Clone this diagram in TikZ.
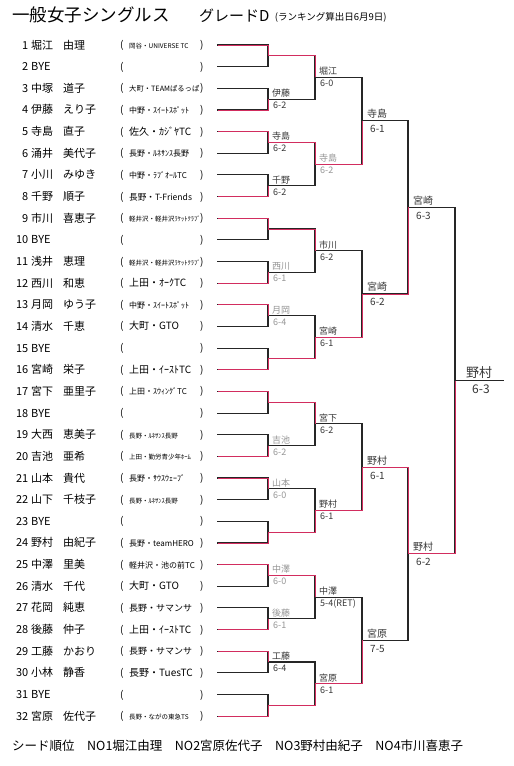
\documentclass[tikz,border=0pt]{standalone}
\usepackage{fontspec}
\setmainfont{Noto Sans CJK JP}
\usetikzlibrary{calc}
\definecolor{inkred}{RGB}{210,45,95}
\definecolor{pen}{RGB}{55,55,55}
\definecolor{faint}{RGB}{150,150,150}
\newcommand\ClubS{\fontsize{6.5}{7}\selectfont}
\newcommand\ClubT{\fontsize{7.3}{8}\selectfont}
\newcommand\ClubM{\fontsize{8}{9}\selectfont}
\newcommand\ClubF{\fontsize{8.6}{9}\selectfont}
\newcommand\ClubN{\fontsize{9}{10}\selectfont}
\newcommand\ClubL{\fontsize{10}{11}\selectfont}
\begin{document}
\begin{tikzpicture}[x=1pt,y=-1pt,
  br/.style={line width=1.1pt, black!85, line cap=rect},
  rd/.style={line width=0.9pt, inkred, xshift=1pt, yshift=1pt},
  txt/.style={anchor=base west, inner sep=0pt},
  num/.style={anchor=base east, inner sep=0pt, font=\fontsize{11}{11}\selectfont},
  nm/.style={txt, font=\fontsize{11}{11}\selectfont},
  par/.style={txt, font=\fontsize{10}{10}\selectfont},
  lab/.style={txt, font=\fontsize{9}{9}\selectfont},
  labb/.style={txt, font=\fontsize{10}{10}\selectfont}]
\useasboundingbox[fill=white] (0,0) rectangle (514,766);

% title
\node[txt, font=\fontsize{17.5}{17.5}\selectfont] (t1) at (12,21) {一般女子シングルス};
\node[txt, font=\fontsize{15}{15}\selectfont] (t2) at (199,21) {グレードD};
\node[txt, font=\fontsize{9.5}{9.5}\selectfont] (t3) at ($(t2.base east)+(5,-1)$) {(ランキング算出日6月9日)};

% players
\foreach \i/\sur/\giv/\cs/\club in {
 1/堀江/由理/S/岡谷・UNIVERSE TC,
 2/BYE/{}/S/{},
 3/中塚/道子/T/大町・TEAMぱるっぱ,
 4/伊藤/えり子/M/中野・ｽｲｰﾄｽﾎﾟｯﾄ,
 5/寺島/直子/L/佐久・ｶｼﾞﾔTC,
 6/涌井/美代子/M/長野・ﾙﾈｻﾝｽ長野,
 7/小川/みゆき/M/中野・ﾗﾌﾞｵｰﾙTC,
 8/千野/順子/F/長野・T-Friends,
 9/市川/喜恵子/S/軽井沢・軽井沢ﾗｹｯﾄｸﾗﾌﾞ,
 10/BYE/{}/S/{},
 11/浅井/恵理/S/軽井沢・軽井沢ﾗｹｯﾄｸﾗﾌﾞ,
 12/西川/和恵/L/上田・ｵｰｸTC,
 13/月岡/ゆう子/M/中野・ｽｲｰﾄｽﾎﾟｯﾄ,
 14/清水/千恵/L/大町・GTO,
 15/BYE/{}/S/{},
 16/宮崎/栄子/L/上田・ｲｰｽﾄTC,
 17/宮下/亜里子/M/上田・ｽｳｨﾝｸﾞTC,
 18/BYE/{}/S/{},
 19/大西/恵美子/S/長野・ﾙﾈｻﾝｽ長野,
 20/吉池/亜希/S/上田・勤労青少年ﾎｰﾑ,
 21/山本/貴代/M/長野・ｻｳｽｳｪｰﾌﾞ,
 22/山下/千枝子/S/長野・ﾙﾈｻﾝｽ長野,
 23/BYE/{}/S/{},
 24/野村/由紀子/M/長野・teamHERO,
 25/中澤/里美/M/軽井沢・池の前TC,
 26/清水/千代/L/大町・GTO,
 27/花岡/純恵/N/長野・サマンサ,
 28/後藤/仲子/L/上田・ｲｰｽﾄTC,
 29/工藤/かおり/N/長野・サマンサ,
 30/小林/静香/L/長野・TuesTC,
 31/BYE/{}/S/{},
 32/宮原/佐代子/S/長野・ながの東急TS} {
  \pgfmathsetmacro\yy{45+(\i-1)*21.65}
  \node[num] (n\i) at (28.5,\yy+4) {\i};
  \node[nm] (s\i) at (31,\yy+4) {\sur};
  \node[nm] (g\i) at (63,\yy+4) {\giv};
  \node[par] (lp\i) at (120,\yy+3.5) {(};
  \node[par] (rp\i) at (200,\yy+3.5) {)};
  \node[txt, font=\csname Club\cs\endcsname] (c\i) at (129,\yy+3.5) {\club};
  \coordinate (a0-\i) at (218,\yy);
  \coordinate (b0-\i) at (268,\yy);
  \draw[br] (a0-\i) -- (b0-\i);
}

% bracket
\foreach \r/\n/\xa/\xb in {1/16/268/315, 2/8/315/362, 3/4/362/408, 4/2/408/455, 5/1/455/503} {
  \pgfmathtruncatemacro\pr{\r-1}
  \foreach \k in {1,...,\n} {
    \pgfmathsetmacro\ym{45+21.65*((\k-1)*2^\r + (2^\r-1)/2)}
    \pgfmathtruncatemacro\ku{2*\k-1}
    \pgfmathtruncatemacro\kl{2*\k}
    \coordinate (a\r-\k) at (\xa,\ym);
    \coordinate (b\r-\k) at (\xb,\ym);
    \draw[br] (b\pr-\ku) |- (b\r-\k);
    \draw[br] (b\pr-\kl) |- (a\r-\k);
  }
}

% winner paths in red
\foreach \r/\k/\w in {1/1/1, 1/2/4, 1/3/5, 1/4/8, 1/5/9, 1/6/12, 1/7/13, 1/8/16,
  1/9/17, 1/10/20, 1/11/21, 1/12/24, 1/13/25, 1/14/28, 1/15/29, 1/16/32,
  2/1/1, 2/2/3, 2/3/5, 2/4/8, 2/5/9, 2/6/12, 2/7/13, 2/8/16,
  3/1/2, 3/2/4, 3/3/6, 3/4/8, 4/1/2, 4/2/3, 5/1/2} {
  \pgfmathtruncatemacro\pr{\r-1}
  \draw[rd] (a\pr-\w) -- (b\pr-\w) |- (a\r-\k);
}

% handwritten results
\foreach \r/\k/\who/\sc/\st in {
  1/2/伊藤/6-2/pen, 1/3/寺島/6-2/pen, 1/4/千野/6-2/pen, 1/6/西川/6-1/faint,
  1/7/月岡/6-4/faint, 1/10/吉池/6-2/faint, 1/11/山本/6-0/faint, 1/13/中澤/6-0/faint,
  1/14/後藤/6-1/faint, 1/15/工藤/6-4/pen,
  2/1/堀江/6-0/pen, 2/2/寺島/6-2/faint, 2/3/市川/6-2/pen, 2/4/宮崎/6-1/pen,
  2/5/宮下/6-2/pen, 2/6/野村/6-1/pen, 2/7/中澤/5-4(RET)/pen, 2/8/宮原/6-1/pen} {
  \node[lab, text=\st] (L\r-\k) at ($(a\r-\k)+(4,-2.5)$) {\who};
  \node[lab, text=\st] (S\r-\k) at ($(a\r-\k)+(5,9.5)$) {\sc};
}
\foreach \r/\k/\who/\sc in {3/1/寺島/6-1, 3/2/宮崎/6-2, 3/3/野村/6-1, 3/4/宮原/7-5,
  4/1/宮崎/6-3, 4/2/野村/6-2} {
  \node[labb, text=pen] (L\r-\k) at ($(a\r-\k)+(5,-3)$) {\who};
  \node[labb, text=pen] (S\r-\k) at ($(a\r-\k)+(8,12)$) {\sc};
}
\node[txt, text=pen, font=\fontsize{13}{13}\selectfont] (L5-1) at ($(a5-1)+(11,-3)$) {野村};
\node[txt, text=pen, font=\fontsize{12}{12}\selectfont] (S5-1) at ($(a5-1)+(17,13)$) {6-3};

% seeds
\node[txt, font=\fontsize{12.5}{12.5}\selectfont] (seed) at (12,750)
  {シード順位　NO1堀江由理　NO2宮原佐代子　NO3野村由紀子　NO4市川喜恵子};
\end{tikzpicture}
\end{document}
